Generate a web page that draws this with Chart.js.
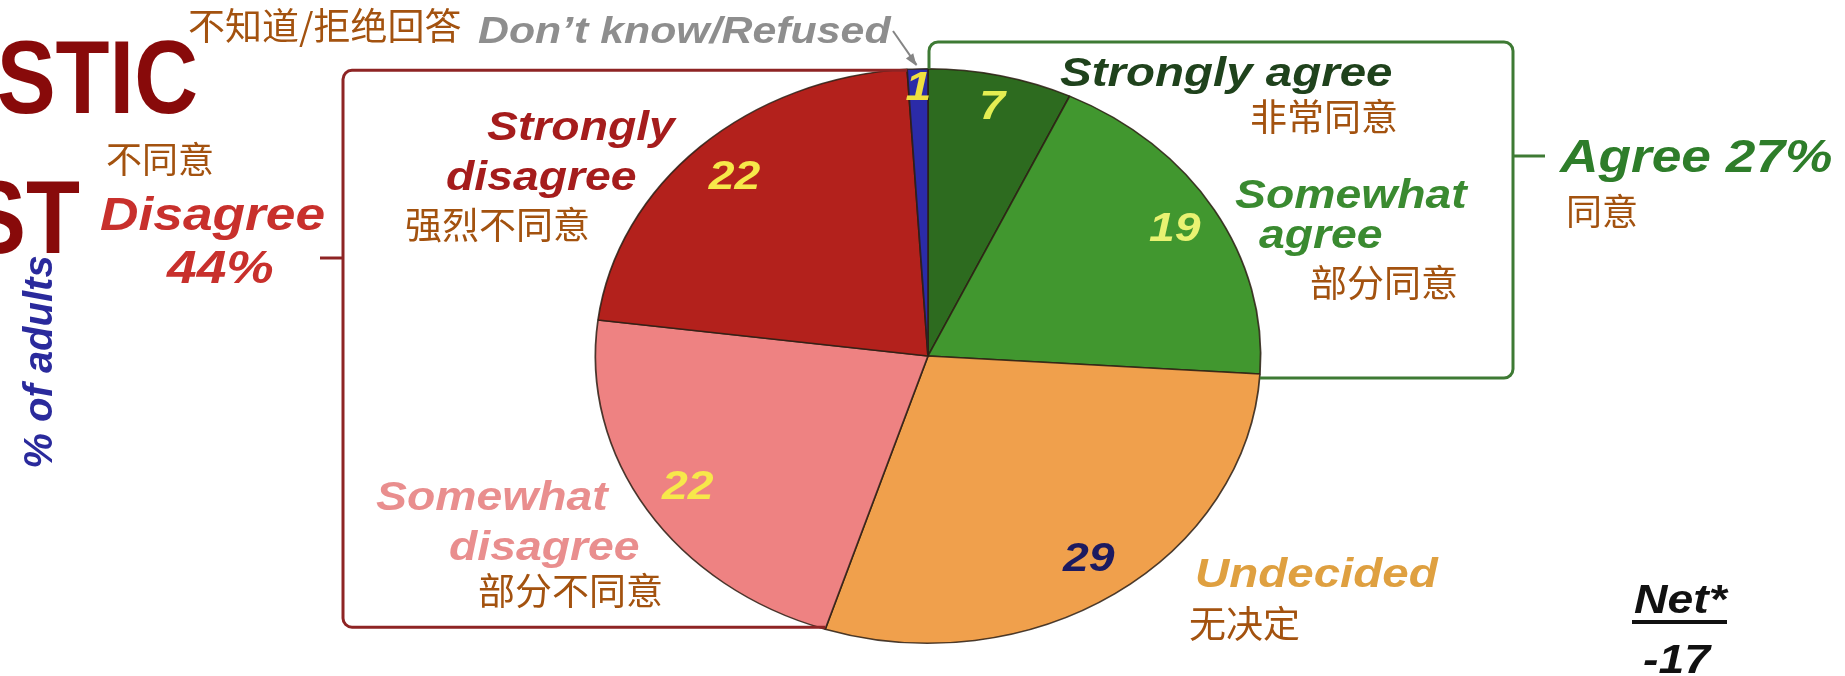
<!DOCTYPE html>
<html><head><meta charset="utf-8">
<script src="https://cdn.jsdelivr.net/npm/chart.js@4/dist/chart.umd.min.js"></script>
<style>html,body{margin:0;padding:0;background:#fff;overflow:hidden}#wrap{width:1845px;height:676px;position:relative}</style>
</head><body><div id="wrap"><canvas id="c" width="1845" height="676"></canvas></div>
<script>
// ---- data ----
const categories   = ['Strongly agree', 'Somewhat agree', 'Undecided', 'Somewhat disagree', 'Strongly disagree', 'Don\u2019t know/Refused'];
const categoriesZh = ['非常同意', '部分同意', '无决定', '部分不同意', '强烈不同意', '不知道/拒绝回答'];
const values       = [7, 19, 29, 22, 22, 1];
const groupAgree    = ['Agree 27%', '同意'];
const groupDisagree = ['Disagree', '44%', '不同意'];
const netTitle = 'Net*';
const netValue = '-17';
const yAxisTitle = '% of adults';
const titleFragments = ['STIC', 'ST'];

// ---- styles ----
const sliceColors = ['#2d6b1f', '#41972f', '#f0a04c', '#ee8282', '#b3211c', '#2b2ba8'];
const valueColors = ['#e4ee52', '#e9f272', '#1c1a60', '#f7e84a', '#f7e84a', '#f0e040'];
const labelRadius = [0.885, 0.862, 0.86, 0.855, 0.85, 0.93];
const SX = 1.158; // horizontal stretch of the original picture
const ZH = '#a3520f';
const EN = "'Liberation Sans', Arial, sans-serif";
const CJK = "'Noto Sans CJK SC', sans-serif";

function txt(ctx, s, x, y, o) {
  ctx.save();
  ctx.font = o.font; ctx.fillStyle = o.color;
  ctx.textAlign = o.align || 'left';
  ctx.textBaseline = o.base || 'alphabetic';
  ctx.translate(x, y);
  if (o.rot) ctx.rotate(o.rot);
  ctx.scale(o.sx || 1, 1);
  ctx.fillText(s, 0, 0);
  ctx.restore();
}
function edge(arc, ang, f) {
  return { x: arc.x + Math.cos(ang) * arc.outerRadius * f * SX, y: arc.y + Math.sin(ang) * arc.outerRadius * f };
}
function roundPath(ctx, pts, r) {
  ctx.beginPath();
  ctx.moveTo(pts[0][0], pts[0][1]);
  for (let i = 1; i < pts.length - 1; i++) ctx.arcTo(pts[i][0], pts[i][1], pts[i + 1][0], pts[i + 1][1], r);
  ctx.lineTo(pts[pts.length - 1][0], pts[pts.length - 1][1]);
  ctx.stroke();
}

const stretchPlugin = {
  id: 'stretch',
  beforeDatasetsDraw(chart) {
    const a = chart.getDatasetMeta(0).data[0];
    const ctx = chart.ctx;
    ctx.save(); ctx.translate(a.x, a.y); ctx.scale(SX, 1); ctx.translate(-a.x, -a.y);
  },
  afterDatasetsDraw(chart) { chart.ctx.restore(); }
};

const annotPlugin = {
  id: 'annot',
  afterDraw(chart) {
    const ctx = chart.ctx;
    const arcs = chart.getDatasetMeta(0).data;
    const c = arcs[0];
    // value labels
    arcs.forEach((a, i) => {
      const mid = (a.startAngle + a.endAngle) / 2;
      const p = edge(a, mid, labelRadius[i]);
      txt(ctx, String(values[i]), p.x, p.y, { font: `italic bold 40px ${EN}`, color: valueColors[i], align: 'center', base: 'middle', sx: SX });
    });

    // title fragments
    txt(ctx, titleFragments[0], 198, 113, { font: `bold 104px ${EN}`, color: '#880a0a', align: 'right', sx: 0.85 });
    txt(ctx, titleFragments[1], 80, 253, { font: `bold 104px ${EN}`, color: '#880a0a', align: 'right', sx: 0.85 });

    // y axis title
    txt(ctx, yAxisTitle, 52, 362, { font: `italic bold 40px ${EN}`, color: '#2a2a9c', align: 'center', rot: -Math.PI / 2 });

    // red bracket (disagree group)
    const sdEnd = edge(arcs[4], arcs[4].endAngle, 1);
    const swdStart = edge(arcs[3], arcs[3].startAngle, 1);
    ctx.save();
    ctx.strokeStyle = '#8e2424'; ctx.lineWidth = 3; ctx.lineJoin = 'round';
    roundPath(ctx, [[sdEnd.x, sdEnd.y + 1], [343, sdEnd.y + 1], [343, swdStart.y - 2], [swdStart.x, swdStart.y - 2]], 9);
    ctx.beginPath(); ctx.moveTo(343, 258); ctx.lineTo(320, 258); ctx.stroke();
    ctx.restore();

    // green bracket (agree group)
    const saStart = edge(arcs[0], arcs[0].startAngle, 1);
    const swaEnd = edge(arcs[1], arcs[1].endAngle, 1);
    ctx.save();
    ctx.strokeStyle = '#3e7a34'; ctx.lineWidth = 3; ctx.lineJoin = 'round';
    roundPath(ctx, [[saStart.x + 1, saStart.y], [saStart.x + 1, 42], [1513, 42], [1513, swaEnd.y + 4], [swaEnd.x, swaEnd.y + 4]], 9);
    ctx.beginPath(); ctx.moveTo(1513, 156); ctx.lineTo(1545, 156); ctx.stroke();
    ctx.restore();

    // arrow for Don't know
    const dk = edge(arcs[5], (arcs[5].startAngle + arcs[5].endAngle) / 2, 1);
    ctx.save();
    ctx.strokeStyle = '#858585'; ctx.fillStyle = '#858585'; ctx.lineWidth = 2;
    ctx.beginPath(); ctx.moveTo(893, 31); ctx.lineTo(dk.x - 1, dk.y - 4); ctx.stroke();
    const ang = Math.atan2(dk.y - 4 - 31, dk.x - 1 - 893);
    ctx.beginPath();
    ctx.moveTo(dk.x - 1, dk.y - 3);
    ctx.lineTo(dk.x - 1 - 13 * Math.cos(ang - 0.35), dk.y - 3 - 13 * Math.sin(ang - 0.35));
    ctx.lineTo(dk.x - 1 - 13 * Math.cos(ang + 0.35), dk.y - 3 - 13 * Math.sin(ang + 0.35));
    ctx.closePath(); ctx.fill();
    ctx.restore();

    // category labels (English)
    const bi = (s) => `italic bold ${s}px ${EN}`;
    txt(ctx, categories[5], 478, 43, { font: bi(37), color: '#8e8e8e', sx: SX });
    txt(ctx, 'Strongly', 487, 140, { font: bi(40), color: '#a51c1c', sx: SX });
    txt(ctx, 'disagree', 446, 190, { font: bi(40), color: '#a51c1c', sx: SX });
    txt(ctx, 'Somewhat', 376, 510, { font: bi(40), color: '#e98e8e', sx: SX });
    txt(ctx, 'disagree', 449, 560, { font: bi(40), color: '#e98e8e', sx: SX });
    txt(ctx, categories[0], 1060, 86, { font: bi(41), color: '#1f421c', sx: SX });
    txt(ctx, 'Somewhat', 1235, 208, { font: bi(40), color: '#3a8a30', sx: SX });
    txt(ctx, 'agree', 1259, 248, { font: bi(40), color: '#3a8a30', sx: SX });
    txt(ctx, categories[2], 1195, 587, { font: bi(41), color: '#dfa040', sx: SX });

    // group labels
    txt(ctx, groupDisagree[0], 100, 230, { font: bi(46), color: '#c8302c', sx: SX });
    txt(ctx, groupDisagree[1], 167, 283, { font: bi(46), color: '#c8302c', sx: SX });
    txt(ctx, groupAgree[0], 1560, 172, { font: bi(46), color: '#2e7d2a', sx: SX });

    // Chinese labels
    const zh = (s) => `${s}px ${CJK}`;
    txt(ctx, categoriesZh[5], 188, 26, { font: zh(37), color: ZH, base: 'middle' });
    txt(ctx, groupDisagree[2], 106, 159, { font: zh(36), color: ZH, base: 'middle' });
    txt(ctx, categoriesZh[4], 405, 225, { font: zh(37), color: ZH, base: 'middle' });
    txt(ctx, categoriesZh[3], 478, 591, { font: zh(37), color: ZH, base: 'middle' });
    txt(ctx, categoriesZh[0], 1250, 117, { font: zh(37), color: ZH, base: 'middle' });
    txt(ctx, categoriesZh[1], 1310, 283, { font: zh(37), color: ZH, base: 'middle' });
    txt(ctx, groupAgree[1], 1566, 211, { font: zh(36), color: ZH, base: 'middle' });
    txt(ctx, categoriesZh[2], 1189, 624, { font: zh(37), color: ZH, base: 'middle' });

    // Net
    txt(ctx, netTitle, 1634, 613, { font: bi(40), color: '#111', sx: SX });
    ctx.save(); ctx.fillStyle = '#111'; ctx.fillRect(1632, 620, 95, 4); ctx.restore();
    txt(ctx, netValue, 1643, 673, { font: bi(40), color: '#111', sx: SX });
  }
};

new Chart(document.getElementById('c'), {
  type: 'pie',
  data: {
    labels: categories,
    datasets: [{
      data: values,
      backgroundColor: sliceColors,
      borderColor: 'rgba(45,30,20,0.85)',
      borderWidth: 1.5,
      clip: false
    }]
  },
  options: {
    responsive: false,
    animation: false,
    layout: { padding: { left: 600, right: 589, top: 68, bottom: 32 } },
    plugins: { legend: { display: false }, tooltip: { enabled: false } }
  },
  plugins: [stretchPlugin, annotPlugin]
});
</script></body></html>
